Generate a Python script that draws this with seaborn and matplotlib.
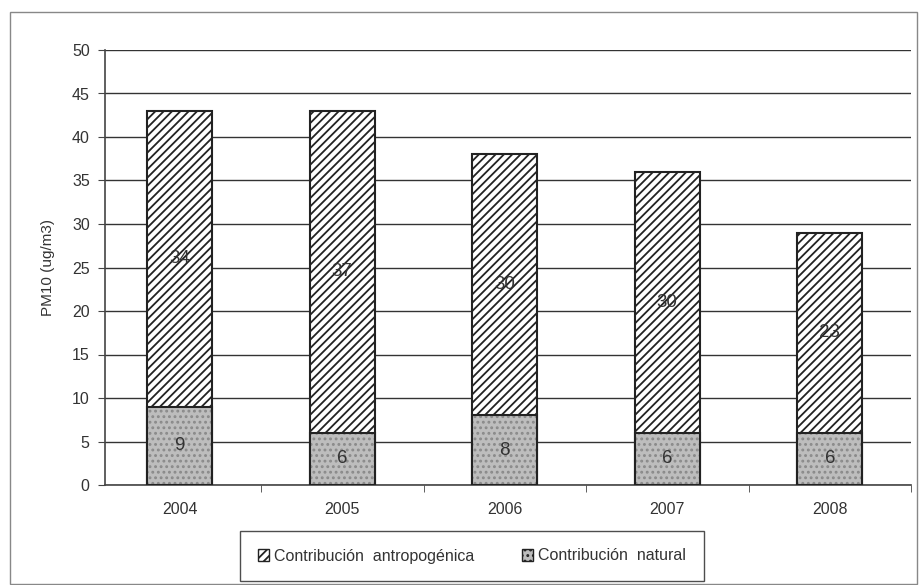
import numpy as np
import pandas as pd
import matplotlib
matplotlib.use("Agg")
import matplotlib.pyplot as plt
import seaborn as sns
from matplotlib.patches import Patch, Rectangle

# ---- data ----
years = ["2004", "2005", "2006", "2007", "2008"]
natural = [9, 6, 8, 6, 6]
antropogenica = [34, 37, 30, 30, 23]

sns.set_style("white")
plt.rcParams['font.family'] = ['Liberation Sans', 'DejaVu Sans']
plt.rcParams['hatch.linewidth'] = 1.3

total = [n + a for n, a in zip(natural, antropogenica)]
df = pd.DataFrame({"year": years, "natural": natural,
                   "antropogenica": antropogenica, "total": total})

fig = plt.figure(figsize=(9.22, 5.85), dpi=100)
ax = fig.add_axes([105 / 922, 1 - 485 / 585, (911 - 105) / 922, (485 - 50) / 585])

# outer frame of the figure
fig.patches.append(Rectangle((10 / 922, 0.002), 907 / 922, 1 - 12 / 585 - 0.002,
                             transform=fig.transFigure, fill=False,
                             edgecolor="#888888", linewidth=1))

# anthropogenic on top (drawn as full total), then natural over it
sns.barplot(data=df, x="year", y="total", ax=ax, color="white", width=0.4,
            edgecolor="#222222", linewidth=1.5, hatch="////", saturation=1, zorder=3)
# natural: light dotted texture, then a dark outline on top
sns.barplot(data=df, x="year", y="natural", ax=ax, color="#bdbdbd", width=0.4,
            edgecolor="#8a8a8a", linewidth=0, hatch="...", saturation=1, zorder=4)
sns.barplot(data=df, x="year", y="natural", ax=ax, fill=False, width=0.4,
            edgecolor="#222222", linewidth=1.5, saturation=1, zorder=5)

for i in range(len(years)):
    ax.text(i, natural[i] / 2, str(natural[i]), ha="center", va="center",
            fontsize=13.5, color="#333333", zorder=6)
    ax.text(i, natural[i] + antropogenica[i] / 2, str(antropogenica[i]),
            ha="center", va="center", fontsize=13.5, color="#333333", zorder=6)

ax.set_ylim(0, 50)
ax.set_xlim(-0.46, 4.5)
ax.set_yticks(range(0, 51, 5))
ax.yaxis.grid(True, color="#333333", linewidth=1)
ax.set_axisbelow(True)
for s in ["top", "right"]:
    ax.spines[s].set_visible(False)
ax.spines["left"].set_color("#444444")
ax.spines["bottom"].set_color("#444444")
ax.spines["left"].set_linewidth(1.2)
ax.spines["bottom"].set_linewidth(1.2)

ax.tick_params(axis="y", direction="out", length=5, color="#444444",
               labelsize=11.5, labelcolor="#333333", left=True, pad=6)
ax.tick_params(axis="x", length=0, labelsize=11.5, labelcolor="#333333", pad=12)
ax.set_xticks(np.arange(len(years)) + 0.5, minor=True)
ax.tick_params(axis="x", which="minor", direction="out", length=5, color="#444444", bottom=True)

ax.set_xlabel("")
ax.set_ylabel("PM10 (ug/m3)", fontsize=11, color="#333333", labelpad=12)

handles = [Patch(facecolor="white", edgecolor="#222222", hatch="////", label="Contribución  antropogénica"),
           Patch(facecolor="#bdbdbd", edgecolor="#222222", hatch="...", label="Contribución  natural")]
leg = fig.legend(handles=handles, loc="center", ncol=2,
                 bbox_to_anchor=(472 / 922, 1 - 556 / 585),
                 frameon=True, fancybox=False, fontsize=11.5,
                 handlelength=0.7, handleheight=0.7, handletextpad=0.3,
                 columnspacing=3.0, borderpad=1.1, borderaxespad=0)
leg.get_frame().set_edgecolor("#222222")
leg.get_frame().set_linewidth(1)
for t in leg.get_texts():
    t.set_color("#333333")

fig.savefig("out.png", dpi=100)
